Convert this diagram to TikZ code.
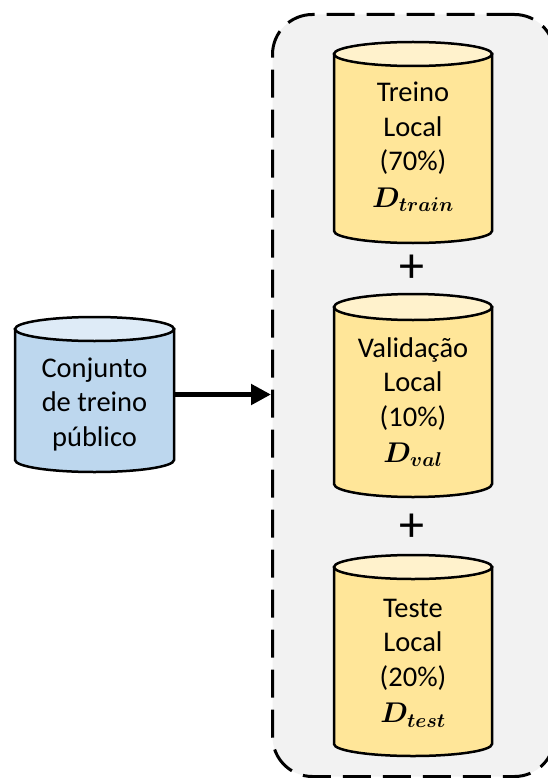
\RequirePackage{fix-cm}
\documentclass[tikz,border=0pt]{standalone}
\usepackage{amsmath}
\usepackage{fontspec}
\setmainfont{Carlito}
\usetikzlibrary{arrows.meta}

\definecolor{panelgrey}{HTML}{F2F2F2}
\definecolor{bluebody}{HTML}{BDD7EE}
\definecolor{bluecap}{HTML}{DEEBF7}
\definecolor{goldbody}{HTML}{FFE699}
\definecolor{goldcap}{HTML}{FFF2CC}

% #1 cx, #2 y of top ellipse centre, #3 y of bottom arc centre,
% #4 x radius, #5 y radius, #6 body colour, #7 cap colour
\newcommand\drumshape[7]{%
  \path[fill=#6, draw=black, line width=2.5pt]
    (#1-#4,-#2) -- (#1-#4,-#3)
    arc[start angle=180, end angle=360, x radius=#4, y radius=#5]
    -- (#1+#4,-#2) -- cycle;
  \path[fill=#7, draw=black, line width=2.5pt]
    (#1,-#2) ellipse[x radius=#4, y radius=#5];
}

\tikzset{
  label text/.style={align=center, inner sep=0pt,
    font=\fontsize{28.5}{34.5}\selectfont},
  plus sign/.style={inner sep=0pt, font=\fontsize{50}{50}\selectfont},
  panel/.style={draw=black, line width=3pt, fill=panelgrey,
    dash pattern=on 28pt off 12pt, rounded corners=40pt,
    anchor=north west, inner sep=0pt},
  flow/.style={line width=5.5pt, -{Triangle[length=20pt, width=20pt]}},
}

\begin{document}
\begin{tikzpicture}[x=1pt, y=1pt]
  \useasboundingbox (0,0) rectangle (547,-778);

  % dashed panel holding the three local splits
  \node[panel, minimum width=282pt, minimum height=762pt] (grp) at (271,-13) {};

  % public training set
  \drumshape{94.5}{329}{460}{79.5}{12}{bluebody}{bluecap}
  \node[inner sep=0pt, minimum width=159pt, minimum height=155pt] (pub) at (94.5,-394.5) {};
  \node[label text] (pubtxt) at (94.5,-404) {Conjunto\\de treino\\público};

  % local splits
  \drumshape{413}{54}{231}{79}{12}{goldbody}{goldcap}
  \node[label text] (trn) at (413,-147) {Treino\\Local\\(70\%)\\[2pt]{\boldmath$D_{train}$}};

  \node[plus sign] (p1) at (412,-269) {+};

  \drumshape{413}{307}{484}{79}{13}{goldbody}{goldcap}
  \node[label text] (val) at (413,-402) {Validação\\Local\\(10\%)\\[2pt]{\boldmath$D_{val}$}};

  \node[plus sign] (p2) at (412,-528) {+};

  \drumshape{413}{567}{744}{79}{12}{goldbody}{goldcap}
  \node[label text] (tst) at (413,-663) {Teste\\Local\\(20\%)\\[2pt]{\boldmath$D_{test}$}};

  % public set feeds the local splits
  \draw[flow] (pub.east) -- (pub.east -| grp.west);
\end{tikzpicture}
\end{document}
